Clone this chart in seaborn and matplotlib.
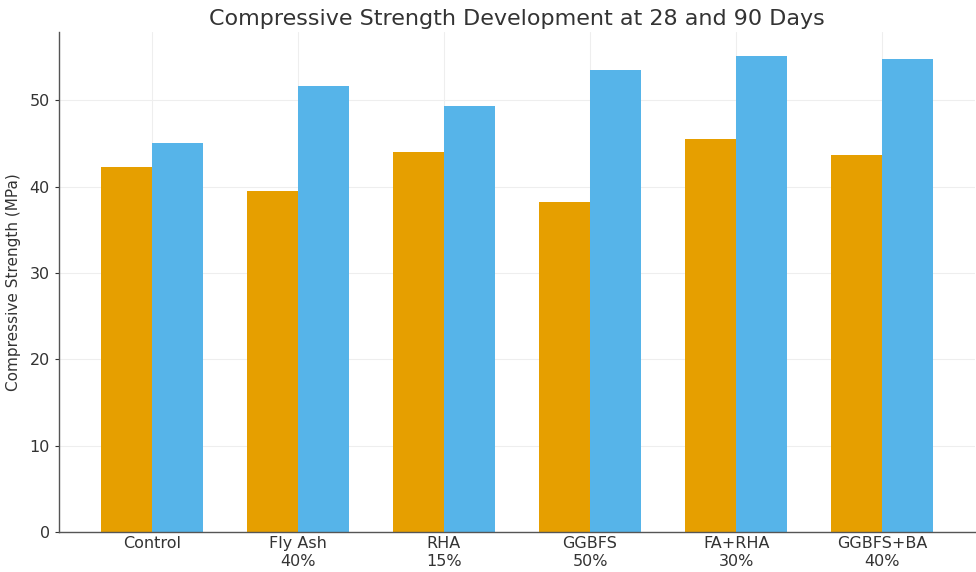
import matplotlib
matplotlib.use("Agg")
import matplotlib.pyplot as plt
import seaborn as sns
import pandas as pd

categories = ["Control", "Fly Ash\n40%", "RHA\n15%", "GGBFS\n50%", "FA+RHA\n30%", "GGBFS+BA\n40%"]
strength_28 = [42.3, 39.5, 44.0, 38.2, 45.5, 43.7]
strength_90 = [45.1, 51.7, 49.3, 53.55, 55.1, 54.8]
ages = ["28 Days", "90 Days"]
colors = ["#E69F00", "#56B4E9"]

df = pd.DataFrame({
    "Mix": categories * 2,
    "Strength": strength_28 + strength_90,
    "Age": [ages[0]] * len(categories) + [ages[1]] * len(categories),
})

sns.set_theme(style="whitegrid")
plt.rcParams["font.family"] = ["DejaVu Sans"]

fig = plt.figure(figsize=(9.76, 5.72), dpi=100)
ax = fig.add_axes([59 / 976, 1 - 532 / 572, (975 - 59) / 976, (532 - 32) / 572])

sns.barplot(data=df, x="Mix", y="Strength", hue="Age", palette=colors,
            width=0.7, saturation=1, legend=False, ax=ax, errorbar=None,
            linewidth=0)

ax.set_xlim(-0.635, 5.635)
ax.set_ylim(0, 57.9)
ax.set_yticks([0, 10, 20, 30, 40, 50])
ax.set_title("Compressive Strength Development at 28 and 90 Days", fontsize=16, color="#333333", pad=5)
ax.set_ylabel("Compressive Strength (MPa)", fontsize=11, color="#333333", labelpad=6)
ax.set_xlabel("")
ax.tick_params(axis="both", labelsize=11.5, colors="#333333", length=3, width=0.8, left=True, bottom=True)
ax.tick_params(axis="x", length=0, pad=3)
ax.grid(True, color="#eeeeee", linewidth=0.8)
ax.set_axisbelow(True)
for s in ["top", "right"]:
    ax.spines[s].set_visible(False)
for s in ["left", "bottom"]:
    ax.spines[s].set_color("#555555")
    ax.spines[s].set_linewidth(1.0)

fig.savefig("out.png", dpi=100)
